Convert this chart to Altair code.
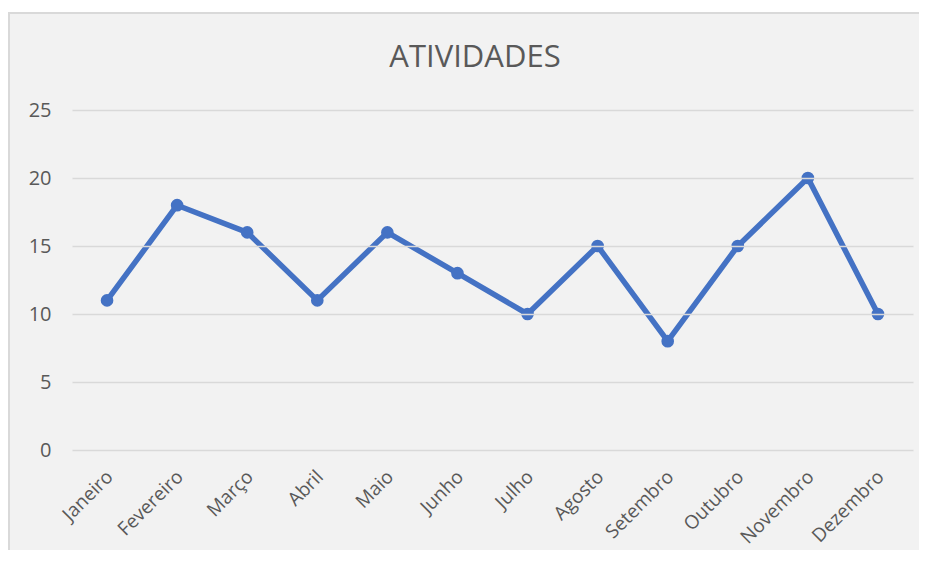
import altair as alt
import pandas as pd

meses = ["Janeiro", "Fevereiro", "Março", "Abril", "Maio", "Junho",
         "Julho", "Agosto", "Setembro", "Outubro", "Novembro", "Dezembro"]
valores = [11, 18, 16, 11, 16, 13, 10, 15, 8, 15, 20, 10]
titulo = ["ATIVIDADES"]

df = pd.DataFrame({"mes": meses, "valor": valores})
df_t = pd.DataFrame({"t": titulo})

FONT = "Open Sans"
GREY = "#595959"

x = alt.X("mes:N", sort=meses, title=None,
          scale=alt.Scale(paddingOuter=0.5),
          axis=alt.Axis(labelAngle=-45, labelFontSize=19, labelColor=GREY,
                        labelFont=FONT, ticks=False, domain=False,
                        labelPadding=17, labelOffset=-4, grid=False, zindex=1))
y = alt.Y("valor:Q", title=None,
          scale=alt.Scale(domain=[0, 25]),
          axis=alt.Axis(values=[0, 5, 10, 15, 20, 25], labelFontSize=20,
                        labelColor=GREY, labelFont=FONT, ticks=False,
                        domain=False, labelPadding=21, gridColor="#d9d9d9",
                        gridWidth=1.5, zindex=1))

frame = alt.Chart(df_t).mark_rect(fill="#f2f2f2", stroke="#d9d9d9",
                                  strokeWidth=2, clip=False).encode(
    x=alt.value(-63), x2=alt.value(900), y=alt.value(-97), y2=alt.value(500)
)

title = alt.Chart(df_t).mark_text(font=FONT, fontSize=31, color=GREY,
                                  align="center", baseline="middle").encode(
    text="t:N", x=alt.value(403), y=alt.value(-52)
)

line = alt.Chart(df).mark_line(color="#4472c4", strokeWidth=5.5,
                               strokeJoin="round", strokeCap="round").encode(x=x, y=y)
pts = alt.Chart(df).mark_circle(color="#4472c4", size=160, opacity=1).encode(x=x, y=y)

chart = alt.layer(frame, title, line, pts).properties(
    width=841, height=340,
    padding={"left": 64, "top": 102, "right": 6, "bottom": 100},
    autosize=alt.AutoSizeParams(type="none"),
    background="white",
).configure_view(stroke=None)

chart.save("out.html", embed_options={"renderer": "svg", "actions": False})
